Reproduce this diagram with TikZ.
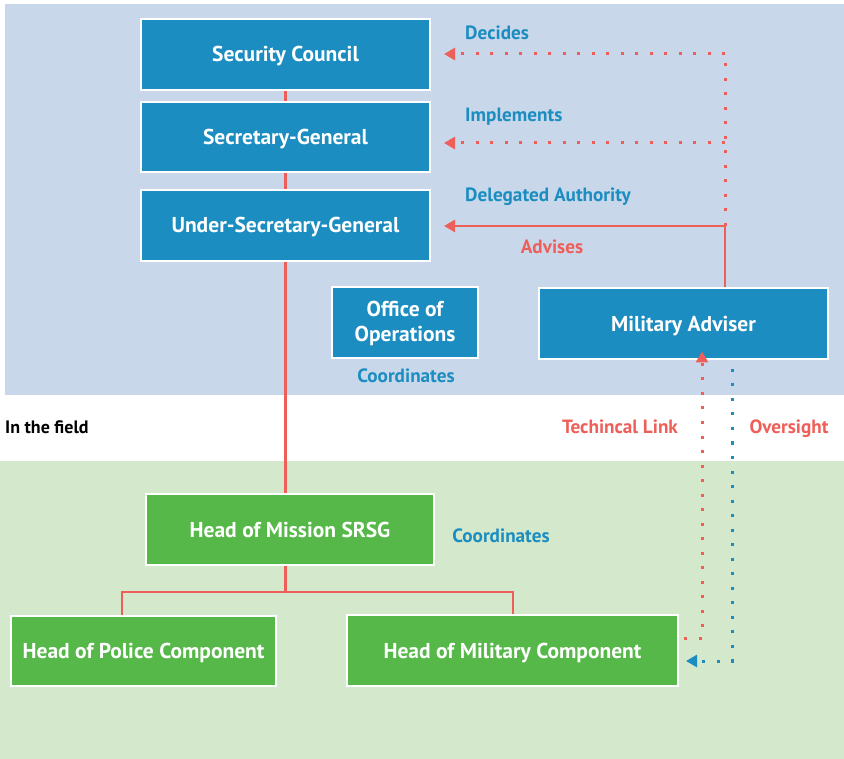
\documentclass[tikz,border=0pt]{standalone}
\usepackage{fontspec}
\setmainfont{PT Sans}
\usetikzlibrary{arrows.meta}
\definecolor{bgblue}{HTML}{C8D8EA}
\definecolor{bggreen}{HTML}{D4E9CB}
\definecolor{boxblue}{HTML}{1B8DC0}
\definecolor{boxgreen}{HTML}{56B848}
\definecolor{lred}{HTML}{EF5F5A}
\tikzset{
  box/.style={draw=white, line width=2pt, text=white, font=\bfseries\fontsize{21.5}{25}\selectfont, align=center, inner sep=0pt, text height=15pt, text depth=0pt},
  bbox/.style={box, fill=boxblue},
  gbox/.style={box, fill=boxgreen},
  lbl/.style={font=\bfseries\fontsize{19.2}{22}\selectfont, text=boxblue, inner sep=0pt, text height=13.5pt, text depth=0pt},
  rlbl/.style={lbl, text=lred},
  conn/.style={draw=lred, line width=2.5pt},
  reddot/.style={draw=lred, line width=3pt, dash pattern=on 3pt off 11.5pt},
  bluedot/.style={draw=boxblue, line width=3pt, dash pattern=on 3pt off 11.5pt},
  tip/.style={-{Triangle[length=11pt,width=12pt]}},
}
\begin{document}
\begin{tikzpicture}[x=1pt,y=-1pt]
\useasboundingbox (0,0) rectangle (844,759);
\fill[white] (0,0) rectangle (844,759);
\fill[bgblue] (5,4) rectangle (844,395);
\fill[bggreen] (0,461) rectangle (844,759);

% nodes
\node[bbox, minimum width=289pt, minimum height=71pt] (SC) at (285.5,54.5) {Security Council};
\node[bbox, minimum width=289pt, minimum height=70pt] (SG) at (285.5,137) {Secretary-General};
\node[bbox, minimum width=289pt, minimum height=71pt] (USG) at (285.5,225.5) {Under-Secretary-General};
\node[bbox, minimum width=146pt, minimum height=71pt, text height=38pt] (OO) at (405,322.5) {Office of\\Operations};
\node[bbox, minimum width=289pt, minimum height=71pt] (MA) at (683.5,324) {Military Adviser};
\node[gbox, minimum width=288pt, minimum height=71pt] (HM) at (290,529.5) {Head of Mission SRSG};
\node[gbox, minimum width=265pt, minimum height=70pt] (HP) at (143.5,651) {Head of Police Component};
\node[gbox, minimum width=331pt, minimum height=71pt] (HC) at (512.5,650.5) {Head of Military Component};

% labels
\node[lbl, anchor=west] (lDec) at (465,33) {Decides};
\node[lbl, anchor=west] (lImp) at (465,115) {Implements};
\node[lbl, anchor=west] (lDel) at (465,195) {Delegated Authority};
\node[rlbl] (lAdv) at (552,247) {Advises};
\node[lbl] (lCo1) at (406,376) {Coordinates};
\node[lbl] (lCo2) at (501,536) {Coordinates};
\node[rlbl] (lTec) at (620,427) {Techincal Link};
\node[rlbl] (lOve) at (789,427) {Oversight};
\node[font=\bfseries\fontsize{18}{21}\selectfont, anchor=west, inner sep=0pt, text height=12.5pt, text depth=0pt] (lFld) at (5,427) {In the field};

% coordinates
\coordinate (jAdv) at (725,226);
\coordinate (jImp) at (725,143);
\coordinate (jDec) at (725,54);
\coordinate (jBar) at (285.5,592);
\coordinate (tRed) at (702,638);
\coordinate (tBlu) at (732,661);

% hierarchy connectors
\draw[conn] (SC.south) -- (SG.north);
\draw[conn] (SG.south) -- (USG.north);
\draw[conn] (USG.south) -- (HM.north -| USG.south);
\draw[conn] (HM.south -| jBar) -- (jBar);
\draw[conn] (HP.north -| 122,0) -- (122,592) -- (513,592) -- (HC.north -| 513,0);

% military adviser links
\draw[conn, tip] (MA.north -| jAdv) -- (jAdv) -- ([xshift=13pt]USG.east |- jAdv);
\draw[reddot] (jAdv) -- (jDec);
\draw[reddot, tip] (jDec) -- ([xshift=13pt]SC.east |- jDec);
\draw[reddot, tip] (jImp) -- ([xshift=13pt]SG.east |- jImp);

% field links
\draw[reddot, tip] ([xshift=5pt]HC.east |- tRed) -- (tRed) -- ([yshift=9pt]MA.south -| tRed);
\draw[bluedot, tip] ([yshift=6pt]MA.south -| tBlu) -- (tBlu) -- ([xshift=7pt]HC.east |- tBlu);
\end{tikzpicture}
\end{document}
